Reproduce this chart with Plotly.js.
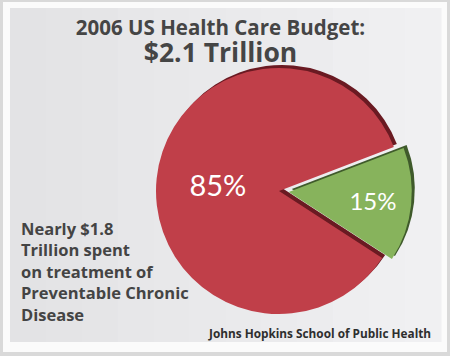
<!DOCTYPE html>
<html>
<head>
<meta charset="utf-8">
<script src="https://cdn.plot.ly/plotly-3.0.1.min.js"></script>
<style>html,body{margin:0;padding:0;background:#d9d9d9;}#chart{width:450px;height:356px;}</style>
</head>
<body>
<div id="chart"></div>
<script>
// ---- data ----
const categories = ["Other spending", "Preventable chronic disease"];
const shares = [15, 85];
const sliceColors = ["#87b35c", "#c03f49"];
const sideColors = ["#3f5a2b", "#6a1a22"];
const pulls = [0.08, 0];
const titleLine1 = "2006 US Health Care Budget:";
const titleLine2 = "$2.1 Trillion";
const noteLines = ["Nearly $1.8", "Trillion spent", "on treatment of", "Preventable Chronic", "Disease"];
const sourceText = "Johns Hopkins School of Public Health";

const W = 450, H = 356;
const px = x => x / W;
const py = y => 1 - y / H;

// pie geometry (pixels)
const cx = 279, cy = 191, r = 123;
const D = 2 * r * (1 + Math.max(...pulls));
function dom(dx, dy) {
  return {
    x: [px(cx + dx - D / 2), px(cx + dx + D / 2)],
    y: [py(cy + dy + D / 2), py(cy + dy - D / 2)]
  };
}

const common = {
  type: "pie",
  labels: categories,
  values: shares,
  sort: false,
  direction: "clockwise",
  rotation: 69,
  pull: pulls,
  hoverinfo: "label+percent",
  showlegend: false
};

const sideTrace = Object.assign({}, common, {
  domain: dom(3, -3),
  marker: { colors: sideColors, line: { width: 0 } },
  textinfo: "none"
});

const mainTrace = Object.assign({}, common, {
  domain: dom(0, 0),
  marker: { colors: sliceColors, line: { width: 0 } },
  textinfo: "percent",
  texttemplate: "%{percent:.0%}",
  textposition: "inside",
  insidetextorientation: "horizontal",
  insidetextfont: { family: "Lato, 'Open Sans', sans-serif", color: "#ffffff", size: [24, 29] }
});

// slide background: a soft left-to-right lightening
const bgShapes = [
  { type: "rect", xref: "paper", yref: "paper", x0: px(3), x1: px(447), y0: py(352), y1: py(2), fillcolor: "#fbfbfb", line: { width: 0 }, layer: "below" }
];
const steps = 12;
for (let i = 0; i < steps; i++) {
  const x0 = 10 + (431 / steps) * i, x1 = 10 + (431 / steps) * (i + 1) + 0.5;
  const v = Math.round(0xe3 + (0xf0 - 0xe3) * i / (steps - 1));
  const hex = v.toString(16);
  bgShapes.push({ type: "rect", xref: "paper", yref: "paper", x0: px(x0), x1: px(x1), y0: py(342), y1: py(8), fillcolor: "#" + hex + hex + (Math.min(255, v + 2)).toString(16), line: { width: 0 }, layer: "below" });
}

const layout = {
  width: W, height: H,
  margin: { l: 0, r: 0, t: 0, b: 0 },
  paper_bgcolor: "#d9d9d9",
  title: {
    text: titleLine1 + "<br><span style='font-size:26.5px'>" + titleLine2 + "</span>",
    font: { family: "'Open Sans', Lato, sans-serif", size: 20.5, color: "#454545", weight: "bold" },
    x: 0.49, xanchor: "center",
    y: 0.902, yanchor: "top", yref: "container"
  },
  shapes: bgShapes,
  annotations: [
    {
      text: noteLines.join("<br>"),
      xref: "paper", yref: "paper",
      x: px(19), xanchor: "left",
      y: py(271), yanchor: "middle",
      align: "left", showarrow: false,
      font: { family: "'Open Sans', Lato, sans-serif", size: 16.5, color: "#444444", weight: "bold" }
    },
    {
      text: sourceText,
      xref: "paper", yref: "paper",
      x: px(433), xanchor: "right",
      y: py(333), yanchor: "middle",
      showarrow: false,
      font: { family: "'Open Sans', Lato, sans-serif", size: 11.8, color: "#2e2e2e", weight: "bold" }
    }
  ]
};

Plotly.newPlot("chart", [sideTrace, mainTrace], layout, { displayModeBar: false, staticPlot: true });
</script>
</body>
</html>
